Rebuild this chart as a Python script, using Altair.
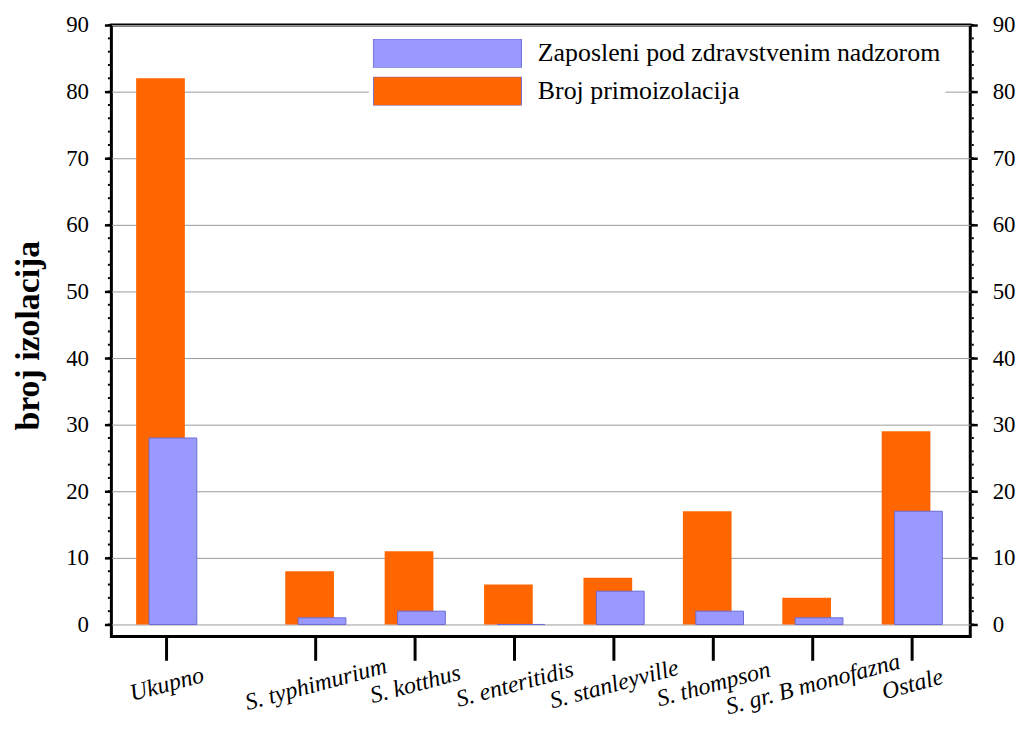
import json
import altair as alt
import pandas as pd

# ---- data ----
categories = ["Ukupno", "S. typhimurium", "S. kotthus", "S. enteritidis",
              "S. stanleyville", "S. thompson", "S. gr. B monofazna", "Ostale"]
broj_primoizolacija = [82, 8, 11, 6, 7, 17, 4, 29]
zaposleni = [28, 1, 2, 0, 5, 2, 1, 17]
series_names = ["Zaposleni pod zdravstvenim nadzorom", "Broj primoizolacija"]
series_colors = ["#9999FF", "#FF6600"]
y_ticks = [0, 10, 20, 30, 40, 50, 60, 70, 80, 90]
y_minor = [v for v in range(0, 91, 2)]

# slot positions: first category stands apart from the rest
pos = [0.0] + [i + 0.5 for i in range(1, len(categories))]

rows = []
for c, p, b, z in zip(categories, pos, broj_primoizolacija, zaposleni):
    rows.append({"cat": c, "pos": p, "series": series_names[1], "value": b})
    rows.append({"cat": c, "pos": p, "series": series_names[0], "value": z})
df = pd.DataFrame(rows)
minor_df = pd.DataFrame({"value": y_minor})
ticks_df = pd.DataFrame({"value": y_ticks})

W, H = 864, 615
FONT = "Liberation Serif, Times New Roman, serif"
ydom = [-1.79, 90]
xdom = [-0.504, 8.036]

yscale = alt.Scale(domain=ydom, nice=False, zero=False)
xscale = alt.Scale(domain=xdom, nice=False, zero=False)
color = alt.Color("series:N",
                  scale=alt.Scale(domain=series_names, range=series_colors),
                  sort=series_names,
                  legend=alt.Legend(title=None))

label_expr = ("[" + ",".join(json.dumps(c) for c in categories) + "]"
              "[datum.value < 1 ? 0 : datum.value - 0.5]")

x_axis = alt.Axis(values=pos, labelExpr=label_expr, title=None, grid=False,
                  domain=False, tickSize=24, tickWidth=3, tickColor="black",
                  labelFont=FONT, labelFontStyle="italic", labelFontSize=24,
                  labelAngle=-15, labelAlign="center", labelBaseline="middle",
                  labelPadding=24, labelColor="black", labelOverlap=False,
                  labelBound=False, labelFlush=False, labelLimit=0)

y_axis_left = alt.Axis(values=y_ticks, title="broj izolacija", grid=True,
                       gridColor="#9a9a9a", gridWidth=1, domain=False,
                       tickSize=7, tickWidth=2.5, tickColor="black",
                       labelFont=FONT, labelFontSize=23, labelPadding=16,
                       labelColor="black",
                       titleFont=FONT, titleFontWeight="bold", titleFontSize=34,
                       titleColor="black", titleAngle=270, titleAlign="center",
                       titleBaseline="alphabetic", titleX=-73, titleY=312)

orange = alt.Chart(df).transform_filter(
    alt.datum.series == series_names[1]
).mark_bar(size=49, xOffset=-6).encode(
    x=alt.X("pos:Q", scale=xscale, axis=x_axis),
    y=alt.Y("value:Q", scale=yscale, axis=y_axis_left),
    color=color,
)

blue = alt.Chart(df).transform_filter(
    alt.datum.series == series_names[0]
).mark_bar(size=48, xOffset=6.5, stroke="#6C6CD6", strokeWidth=1).encode(
    x=alt.X("pos:Q", scale=xscale),
    y=alt.Y("value:Q", scale=yscale),
    color=color,
)

minor_left = alt.Chart(minor_df).mark_rule(color="black", strokeWidth=2).encode(
    y=alt.Y("value:Q", scale=yscale),
    x=alt.value(-3.5), x2=alt.value(-1.5),
)
minor_right = alt.Chart(minor_df).mark_rule(color="black", strokeWidth=2).encode(
    y=alt.Y("value:Q", scale=yscale),
    x=alt.value(W + 1.5), x2=alt.value(W + 3.5),
)

inner = alt.layer(orange, blue, minor_left, minor_right)

right = alt.Chart(ticks_df).mark_rule(opacity=0).encode(
    y=alt.Y("value:Q", scale=alt.Scale(domain=ydom, nice=False, zero=False),
            axis=alt.Axis(orient="right", values=y_ticks, title=None, grid=False,
                          domain=False, tickSize=7, tickWidth=2.5,
                          tickColor="black", labelFont=FONT, labelFontSize=23,
                          labelPadding=15, labelColor="black")),
)

chart = alt.layer(inner, right).resolve_scale(y="independent").properties(
    width=W, height=H,
    autosize=alt.AutoSizeParams(type="none"),
    padding={"left": 104, "top": 15, "right": 46, "bottom": 90},
    background="white",
).configure_view(
    stroke="black", strokeWidth=3
).configure_legend(
    orient="none", legendX=259, legendY=10, padding=4, fillColor="white",
    symbolType="M-1,-0.1946H1V0.1946H-1Z", symbolSize=22201, clipHeight=29,
    rowPadding=9, labelFont=FONT, labelFontSize=26, labelOffset=16,
    labelLimit=0, labelColor="black", symbolStrokeWidth=1,
    symbolOpacity=1,
)

chart.save("out.html", embed_options={"renderer": "svg", "actions": False})
